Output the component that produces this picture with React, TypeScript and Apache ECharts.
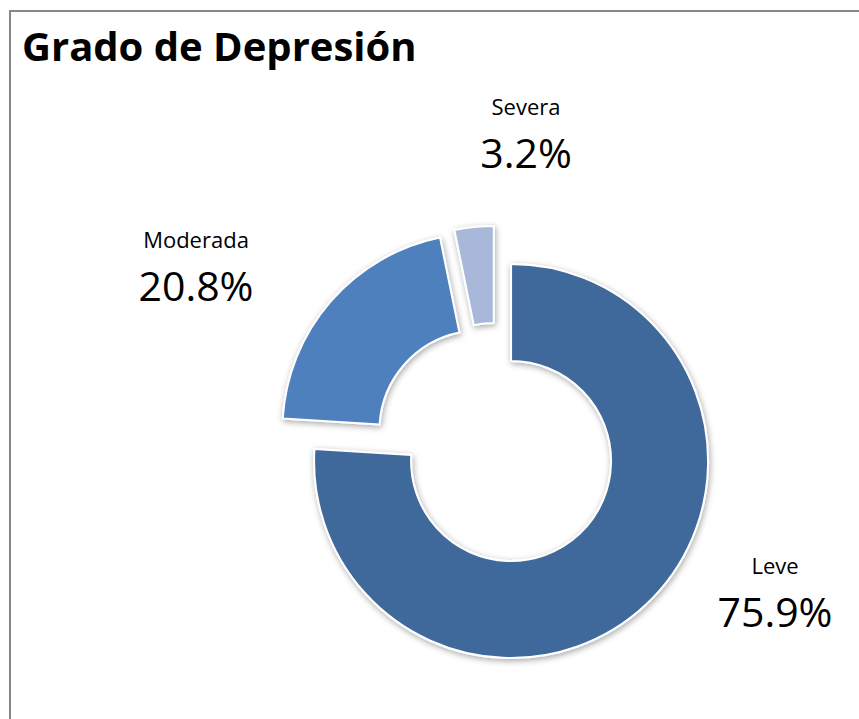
import React, { useEffect, useRef } from "react";
import * as echarts from "echarts";

const categories = ["Leve", "Moderada", "Severa"];
const values = [75.9, 20.8, 3.2];
const colors = ["#41699B", "#4D80BC", "#A7B8D8"];
const titleText = "Grado de Depresión";

export default function App() {
  const ref = useRef<HTMLDivElement>(null);
  useEffect(() => {
    if (!ref.current) return;
    const chart = echarts.init(ref.current, undefined, { renderer: "svg" });
    // label anchor positions (name middle, value middle) per slice
    const labelPos: [number, number, number][] = [
      [775, 565, 611],
      [196, 239, 285],
      [526, 106, 152],
    ];
    const labelGraphics: any[] = [];
    categories.forEach((c, i) => {
      const [x, yn, yv] = labelPos[i];
      labelGraphics.push({
        type: "text",
        x,
        y: yn,
        silent: true,
        style: {
          text: c,
          fontFamily: "Open Sans",
          fontSize: 22,
          fill: "#000",
          align: "center",
          verticalAlign: "middle",
        },
      });
      labelGraphics.push({
        type: "text",
        x,
        y: yv,
        silent: true,
        style: {
          text: `${values[i]}%`,
          fontFamily: "Open Sans",
          fontSize: 41,
          fill: "#000",
          align: "center",
          verticalAlign: "middle",
        },
      });
    });
    chart.setOption({
      animation: false,
      backgroundColor: "#ffffff",
      graphic: [
        {
          type: "rect",
          shape: { x: 10, y: 11, width: 900, height: 800 },
          style: { fill: "none", stroke: "#878787", lineWidth: 2 },
          silent: true,
        },
        ...labelGraphics,
      ],
      title: {
        text: titleText,
        left: 17,
        top: 20,
        textStyle: {
          fontFamily: "Open Sans",
          fontWeight: "bold",
          fontSize: 40,
          color: "#000",
        },
      },
      series: [
        {
          type: "pie",
          center: [496, 445],
          radius: [100, 197],
          startAngle: 90,
          clockwise: true,
          selectedMode: "multiple",
          selectedOffset: 22,
          avoidLabelOverlap: false,
          itemStyle: {
            borderColor: "#ffffff",
            borderWidth: 2,
            shadowBlur: 6,
            shadowColor: "rgba(0,0,0,0.35)",
            shadowOffsetX: 1,
            shadowOffsetY: 2,
          },
          label: { show: false },
          labelLine: { show: false },
          data: categories.map((c, i) => ({
            name: c,
            value: values[i],
            selected: true,
            itemStyle: { color: colors[i] },
          })),
        },
      ],
    });
    return () => chart.dispose();
  }, []);
  return (
    <div
      ref={ref}
      style={{ position: "fixed", left: 0, top: 0, width: 859, height: 719 }}
    />
  );
}
